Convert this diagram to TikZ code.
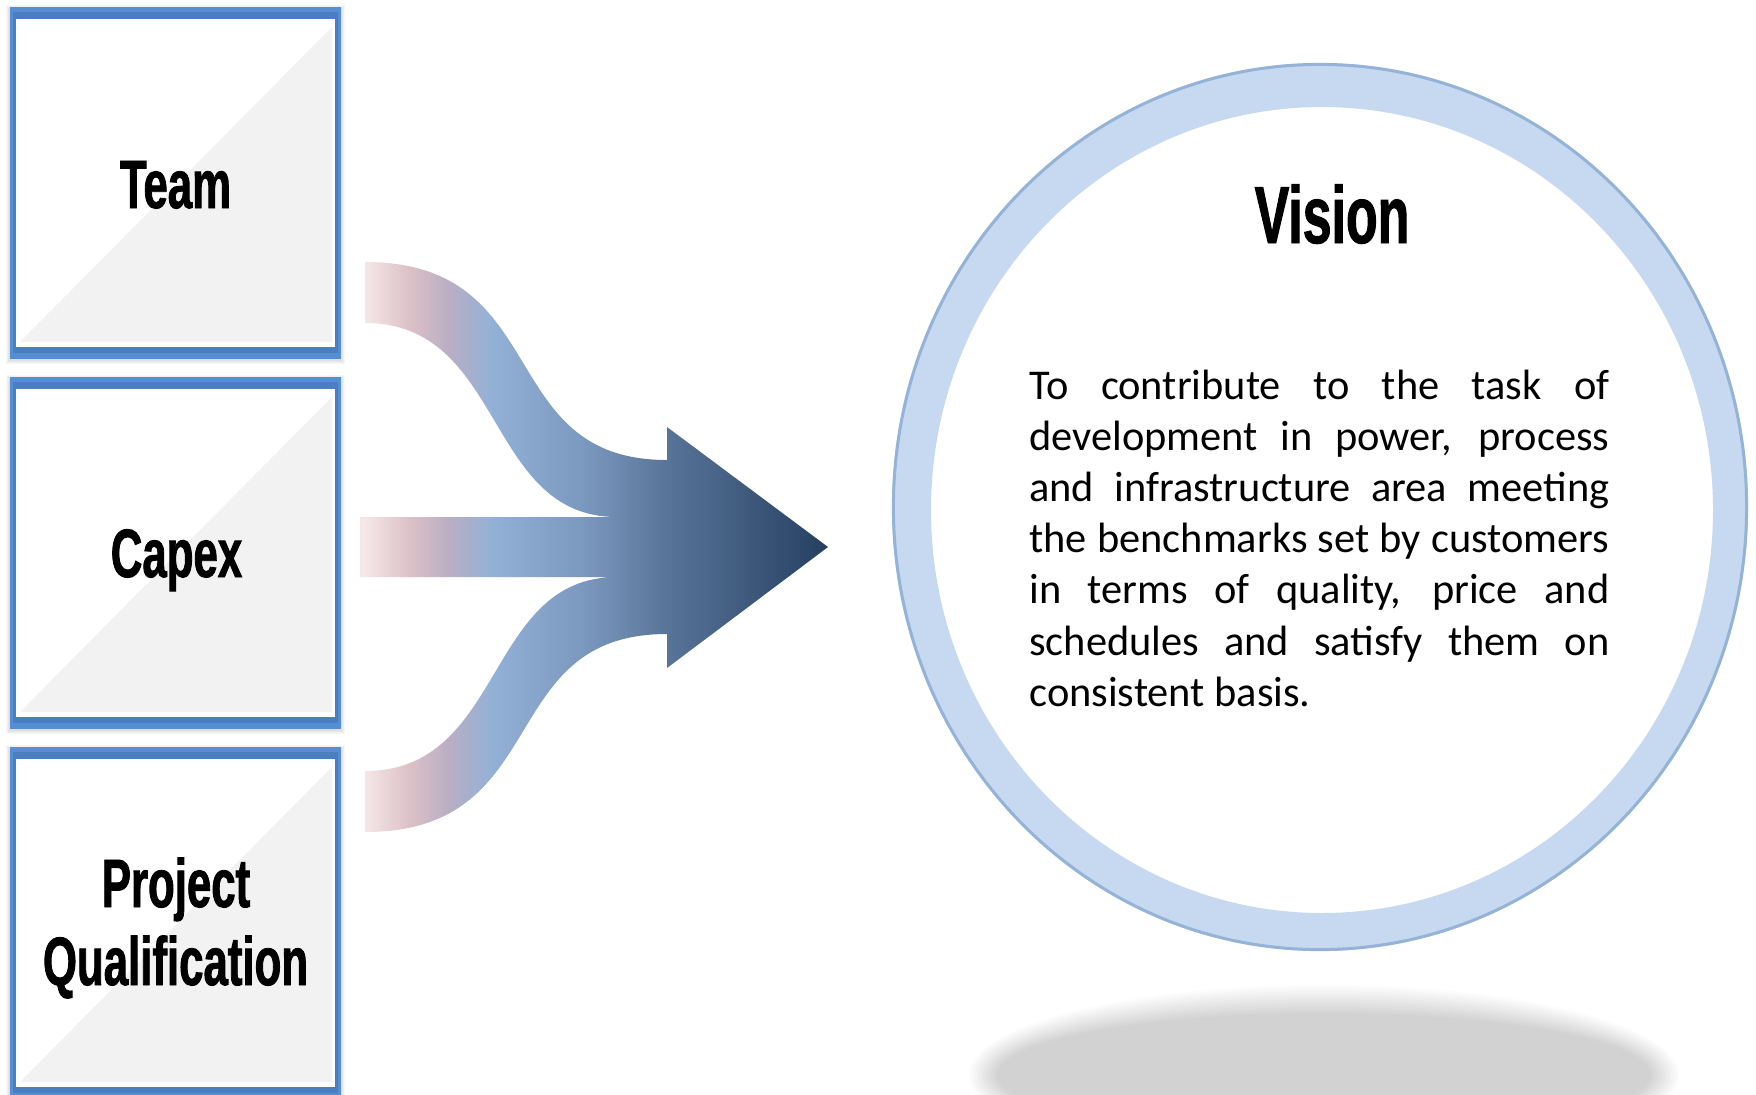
\documentclass[tikz,border=0pt]{standalone}
\usepackage{fontspec}
\setmainfont{Carlito}
\newfontfamily\agency[FakeStretch=0.64,FakeBold=1.2]{Liberation Sans Bold}

% tile colours
\definecolor{tileblue}{HTML}{558ED5}
\definecolor{tiledark}{HTML}{4A7EC1}
\definecolor{tilegray}{HTML}{F2F2F2}
% ring colours
\definecolor{ringfill}{HTML}{C6D9F1}
\definecolor{ringedge}{HTML}{95B3D7}
% merging-arrow gradient stops
\definecolor{fl0}{HTML}{F5E7E7}
\definecolor{fl1}{HTML}{DCC0C7}
\definecolor{fl2}{HTML}{BAAEC4}
\definecolor{fl3}{HTML}{93B1D6}
\definecolor{fl4}{HTML}{7B98BE}
\definecolor{fl5}{HTML}{587498}
\definecolor{fl6}{HTML}{253F61}

\pgfdeclarehorizontalshading{flowshade}{100bp}{%
  color(0bp)=(fl0); color(25.5bp)=(fl0); color(30.3bp)=(fl1);
  color(34.5bp)=(fl2); color(39bp)=(fl3); color(48.8bp)=(fl4);
  color(57.8bp)=(fl5); color(75bp)=(fl6); color(100bp)=(fl6)}

\begin{document}
\begin{tikzpicture}[x=0.5pt,y=-0.5pt,
  tiletext/.style={font=\agency\fontsize{34.2pt}{40pt}\selectfont, inner sep=0pt},
  headtext/.style={font=\agency\fontsize{40.5pt}{48pt}\selectfont, inner sep=0pt},
  bodytext/.style={inner sep=0pt}]

\useasboundingbox (0,0) rectangle (1756,1094);
\fill[white] (0,0) rectangle (1756,1094);

% soft floor shadow under the ring
\foreach \k in {0,...,14}
  \fill[black,opacity=0.011] (1324,1075) ellipse [x radius={177.5pt-\k pt}, y radius={45pt-\k pt}];

% three framed tiles
\foreach \t in {7,377,747} {
  \foreach \k in {1,...,4}
    \fill[black,opacity=0.03] ({10-\k},{\t-\k+2}) rectangle ({341+\k},{\t+353+\k});
  \fill[tileblue] (10,\t) rectangle (341,{\t+352});
  \fill[tiledark] (13,{\t+5}) rectangle (338,{\t+346});
  \fill[white] (16,{\t+12}) rectangle (335,{\t+340});
  \fill[tilegray] (20,{\t+335}) -- (332,{\t+20}) -- (332,{\t+335}) -- cycle;
}

\node[tiletext, anchor=base] (team) at (175.5,208) {Team};
\node[tiletext, anchor=base] (capex) at (176.5,577) {Capex};
\node[tiletext, anchor=base] (project) at (176,907) {Project};
\node[tiletext, anchor=base] (qualification) at (175.5,985) {Qualification};

% three streams merging into one arrow
\shade[shading=flowshade]
  (365,262) .. controls (555,262) and (493,460) .. (667,460)
  -- (667,427) -- (828,547) -- (667,668) -- (667,634)
  .. controls (493,634) and (555,832) .. (365,832)
  -- (365,771)
  .. controls (505.5,771) and (484.5,577) .. (617,577)
  -- (360,577) -- (360,517) -- (617,517)
  .. controls (484.5,517) and (505.5,323) .. (365,323)
  -- cycle;

% ring
\fill[ringfill, even odd rule]
  (1320,507) ellipse [x radius=214pt, y radius=222pt]
  (1322,510) ellipse [x radius=195.5pt, y radius=201.5pt];
\draw[ringedge, line width=1.5pt] (1320,507) ellipse [x radius=213.3pt, y radius=221.3pt];

\node[headtext, anchor=base] (vision) at (1332,243) {Vision};

\node[bodytext, anchor=base west] (mission) at (1029,399) {\parbox[t]{290pt}{%
  \fontsize{21.2pt}{25.6pt}\selectfont
  \makebox[290pt][s]{To contribute to the task of}\\
  \makebox[290pt][s]{development in power, process}\\
  \makebox[290pt][s]{and infrastructure area meeting}\\
  \makebox[290pt][s]{the benchmarks set by customers}\\
  \makebox[290pt][s]{in terms of quality, price and}\\
  \makebox[290pt][s]{schedules and satisfy them on}\\
  consistent basis.}};

\end{tikzpicture}
\end{document}
